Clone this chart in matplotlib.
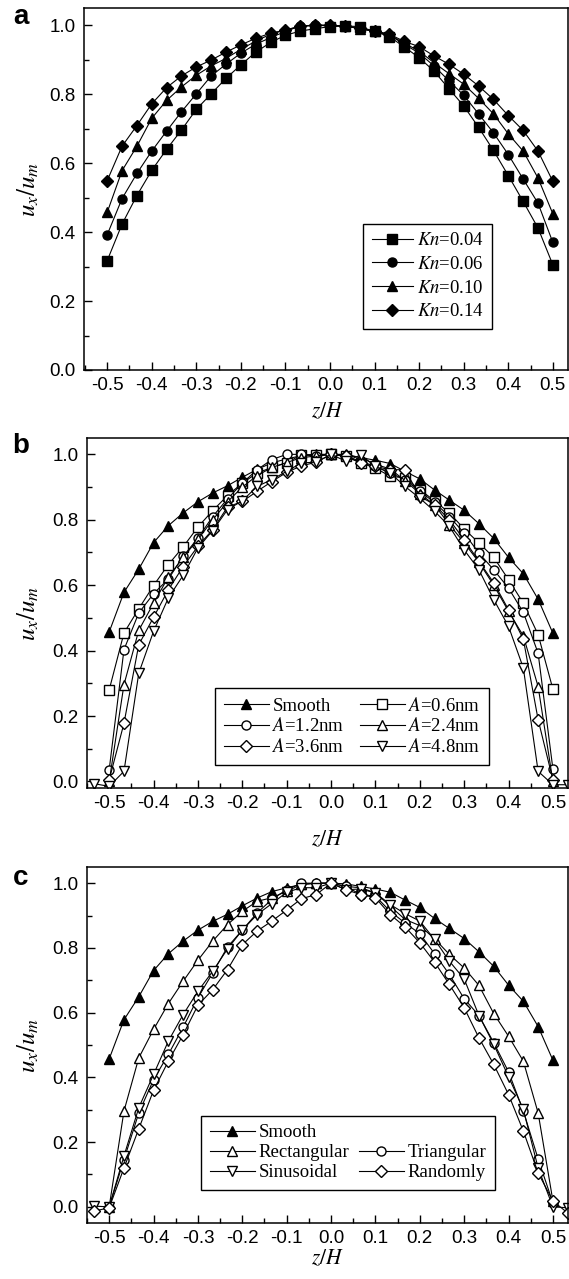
import numpy as np
import matplotlib
matplotlib.use("Agg")
import matplotlib.pyplot as plt
from matplotlib.lines import Line2D
from matplotlib.ticker import MultipleLocator

plt.rcParams['font.family'] = ['Liberation Sans', 'DejaVu Sans']
plt.rcParams['mathtext.fontset'] = 'stix'

# z/H positions (step 1/30)
z = np.arange(-15, 16) / 30.0
z_ext = np.arange(-16, 17) / 30.0   # with the extra points at +-0.533

# ---- panel a: Knudsen number ----
kn_004 = [0.317, 0.423, 0.506, 0.579, 0.640, 0.696, 0.756, 0.801, 0.846, 0.885, 0.922,
          0.950, 0.971, 0.983, 0.990, 0.996, 0.998, 0.996, 0.982, 0.967, 0.937, 0.906,
          0.867, 0.816, 0.766, 0.704, 0.637, 0.564, 0.489, 0.412, 0.305]
kn_006 = [0.392, 0.497, 0.570, 0.635, 0.693, 0.749, 0.801, 0.853, 0.887, 0.919, 0.945,
          0.964, 0.982, 0.998, 1.000, 0.998, 0.998, 0.990, 0.982, 0.971, 0.945, 0.919,
          0.882, 0.839, 0.797, 0.743, 0.688, 0.625, 0.554, 0.484, 0.370]
kn_010 = [0.457, 0.578, 0.649, 0.730, 0.782, 0.821, 0.855, 0.882, 0.904, 0.930, 0.954,
          0.974, 0.986, 0.996, 1.000, 1.000, 0.998, 0.990, 0.982, 0.972, 0.948, 0.925,
          0.891, 0.860, 0.829, 0.788, 0.743, 0.685, 0.635, 0.557, 0.453]
kn_014 = [0.549, 0.649, 0.709, 0.772, 0.819, 0.853, 0.879, 0.899, 0.922, 0.943, 0.962,
          0.977, 0.986, 0.998, 1.000, 1.000, 0.998, 0.991, 0.984, 0.974, 0.953, 0.938,
          0.911, 0.887, 0.858, 0.824, 0.785, 0.738, 0.695, 0.635, 0.547]

# ---- panel b: roughness amplitude ----
smooth = kn_010
a_06 = [0.280, 0.454, 0.528, 0.599, 0.663, 0.717, 0.778, 0.828, 0.874, 0.912, 0.943,
        0.960, 0.974, 0.999, 0.999, 1.000, 0.994, 0.974, 0.958, 0.933, 0.928, 0.892,
        0.858, 0.821, 0.772, 0.729, 0.685, 0.617, 0.545, 0.449, 0.282]
a_12 = [0.036, 0.403, 0.515, 0.574, 0.619, 0.688, 0.744, 0.810, 0.864, 0.912, 0.953,
        0.984, 1.000, 1.000, 0.994, 1.000, 0.994, 0.979, 0.963, 0.943, 0.923, 0.887,
        0.853, 0.810, 0.759, 0.698, 0.647, 0.591, 0.517, 0.392, 0.038]
a_24 = [0.000, 0.296, 0.462, 0.545, 0.625, 0.685, 0.740, 0.800, 0.855, 0.900, 0.935,
        0.960, 0.975, 0.990, 0.995, 1.000, 1.000, 0.990, 0.970, 0.955, 0.920, 0.880,
        0.845, 0.785, 0.730, 0.670, 0.600, 0.520, 0.445, 0.290, 0.000]
a_36 = [0.005, 0.178, 0.418, 0.502, 0.586, 0.657, 0.719, 0.770, 0.839, 0.856, 0.887,
        0.917, 0.945, 0.965, 0.976, 1.000, 0.994, 0.974, 0.963, 0.953, 0.953, 0.872,
        0.846, 0.800, 0.739, 0.673, 0.607, 0.525, 0.435, 0.189, 0.005]
a_48 = [-0.007, -0.015, 0.031, 0.331, 0.459, 0.561, 0.630, 0.714, 0.767, 0.831, 0.858,
        0.902, 0.923, 0.948, 0.974, 0.976, 1.000, 0.979, 0.998, 0.963, 0.943, 0.902,
        0.866, 0.826, 0.780, 0.708, 0.647, 0.556, 0.474, 0.347, 0.031, -0.010, -0.010]

# ---- panel c: roughness shape ----
rectangular = [0.000, 0.296, 0.460, 0.548, 0.628, 0.697, 0.762, 0.821, 0.872, 0.913, 0.944,
               0.955, 0.975, 0.996, 1.000, 1.000, 0.990, 0.986, 0.970, 0.929, 0.888, 0.869,
               0.828, 0.780, 0.738, 0.684, 0.597, 0.527, 0.450, 0.290, 0.018]
triangular = [0.000, 0.146, 0.290, 0.393, 0.471, 0.555, 0.646, 0.723, 0.803, 0.855, 0.908,
              0.950, 0.980, 1.000, 1.000, 1.000, 0.990, 0.965, 0.960, 0.913, 0.877, 0.844,
              0.782, 0.718, 0.643, 0.591, 0.507, 0.417, 0.296, 0.148, 0.012]
sinusoidal = [0.002, 0.000, 0.157, 0.306, 0.409, 0.512, 0.594, 0.666, 0.728, 0.797, 0.855,
              0.903, 0.937, 0.972, 0.986, 0.986, 1.000, 0.980, 0.982, 0.970, 0.934, 0.906,
              0.883, 0.826, 0.759, 0.704, 0.591, 0.502, 0.402, 0.301, 0.120, 0.000, -0.003]
randomly = [-0.013, -0.003, 0.120, 0.241, 0.360, 0.450, 0.532, 0.623, 0.671, 0.733, 0.810,
            0.852, 0.883, 0.917, 0.952, 0.965, 1.000, 0.980, 0.965, 0.955, 0.903, 0.865,
            0.816, 0.756, 0.687, 0.615, 0.522, 0.440, 0.347, 0.234, 0.105, 0.018, -0.019]

W, H = 569, 1279
fig = plt.figure(figsize=(W / 100, H / 100), dpi=100)


def px_axes(left, right, top, bottom):
    return fig.add_axes([left / W, 1 - bottom / H, (right - left) / W, (bottom - top) / H])


def fmt(v, p):
    return '0.0' if abs(v) < 1e-9 else '%.1f' % v


def style(ax, xlim, ylim):
    ax.set_xlim(*xlim)
    ax.set_ylim(*ylim)
    ax.xaxis.set_major_locator(MultipleLocator(0.1))
    ax.xaxis.set_minor_locator(MultipleLocator(0.05))
    ax.yaxis.set_major_locator(MultipleLocator(0.2))
    ax.yaxis.set_minor_locator(MultipleLocator(0.1))
    ax.xaxis.set_major_formatter(plt.FuncFormatter(fmt))
    ax.yaxis.set_major_formatter(plt.FuncFormatter(fmt))
    ax.tick_params(which='both', direction='in', top=False, right=False, labelsize=13.5, width=1.0)
    ax.tick_params(which='major', length=6)
    ax.tick_params(which='minor', length=3.5)
    ax.tick_params(axis='y', pad=6)
    ax.tick_params(axis='x', pad=5)
    for s in ax.spines.values():
        s.set_linewidth(1.1)


serif = ['Liberation Serif', 'DejaVu Serif']
lkw = dict(color='black', lw=0.8, mec='black')
fill = dict(mfc='black')
hollow = dict(mfc='white')
leg_kw = dict(fancybox=False, edgecolor='black', framealpha=1,
              prop={'family': serif, 'size': 13.5}, borderpad=0.45, handletextpad=0.2)

# panel a
ax1 = px_axes(84, 568, 8, 370)
ax1.plot(z, kn_004, marker='s', ms=6.5, label=r'$Kn$=0.04', **lkw, **fill)
ax1.plot(z, kn_006, marker='o', ms=6.5, label=r'$Kn$=0.06', **lkw, **fill)
ax1.plot(z, kn_010, marker='^', ms=7, label=r'$Kn$=0.10', **lkw, **fill)
ax1.plot(z, kn_014, marker='D', ms=6, label=r'$Kn$=0.14', **lkw, **fill)
style(ax1, (-0.552, 0.534), (0, 1.05))
ax1.legend(loc='lower right', bbox_to_anchor=(0.863, 0.088), handlelength=2.2,
           labelspacing=0.35, **leg_kw)

# panel b
ax2 = px_axes(87, 568, 438, 788)
ax2.plot(z, smooth, marker='^', ms=7, label='Smooth', **lkw, **fill)
ax2.plot(z, a_06, marker='s', ms=6.5, label=r'$A$=0.6nm', **lkw, **hollow)
ax2.plot(z, a_12, marker='o', ms=6.5, label=r'$A$=1.2nm', **lkw, **hollow)
ax2.plot(z, a_24, marker='^', ms=7, label=r'$A$=2.4nm', **lkw, **hollow)
ax2.plot(z, a_36, marker='D', ms=6, label=r'$A$=3.6nm', **lkw, **hollow)
ax2.plot(z_ext, a_48, marker='v', ms=7, label=r'$A$=4.8nm', **lkw, **hollow)
style(ax2, (-0.55, 0.534), (-0.02, 1.05))
h, l = ax2.get_legend_handles_labels()
order = [0, 2, 4, 1, 3, 5]
ax2.legend([h[i] for i in order], [l[i] for i in order], ncol=2, loc='lower right',
           bbox_to_anchor=(0.855, 0.04), handlelength=2.4, labelspacing=0.15,
           columnspacing=0.8, **leg_kw)

# panel c
ax3 = px_axes(87, 568, 867, 1223)
ax3.plot(z, smooth, marker='^', ms=7, label='Smooth', **lkw, **fill)
ax3.plot(z, rectangular, marker='^', ms=7, label='Rectangular', **lkw, **hollow)
ax3.plot(z, triangular, marker='o', ms=6.5, label='Triangular', **lkw, **hollow)
ax3.plot(z_ext, sinusoidal, marker='v', ms=7, label='Sinusoidal', **lkw, **hollow)
ax3.plot(z_ext, randomly, marker='D', ms=6, label='Randomly', **lkw, **hollow)
style(ax3, (-0.55, 0.534), (-0.05, 1.05))
h, l = ax3.get_legend_handles_labels()
blank = Line2D([], [], color='none')
ax3.legend([h[0], h[1], h[3], blank, h[2], h[4]], [l[0], l[1], l[3], '', l[2], l[4]],
           ncol=2, loc='lower right', bbox_to_anchor=(0.867, 0.067), handlelength=2.4,
           labelspacing=0.15, columnspacing=0.5, **leg_kw)

# axis labels and panel letters
for ylab_y, xlab_y, letter, letter_y in [(189, 412, 'a', 17), (613, 840, 'b', 446),
                                         (1045, 1259, 'c', 878)]:
    fig.text(28 / W, 1 - ylab_y / H, r'$u_x/u_m$', rotation=90, ha='center', va='center', fontsize=18)
    fig.text(327 / W, 1 - xlab_y / H, r'$z/H$', ha='center', va='center', fontsize=15.5)
    fig.text(21 / W, 1 - letter_y / H, letter, ha='center', va='center', fontsize=20, fontweight='bold')

fig.savefig('out.png', dpi=100)
